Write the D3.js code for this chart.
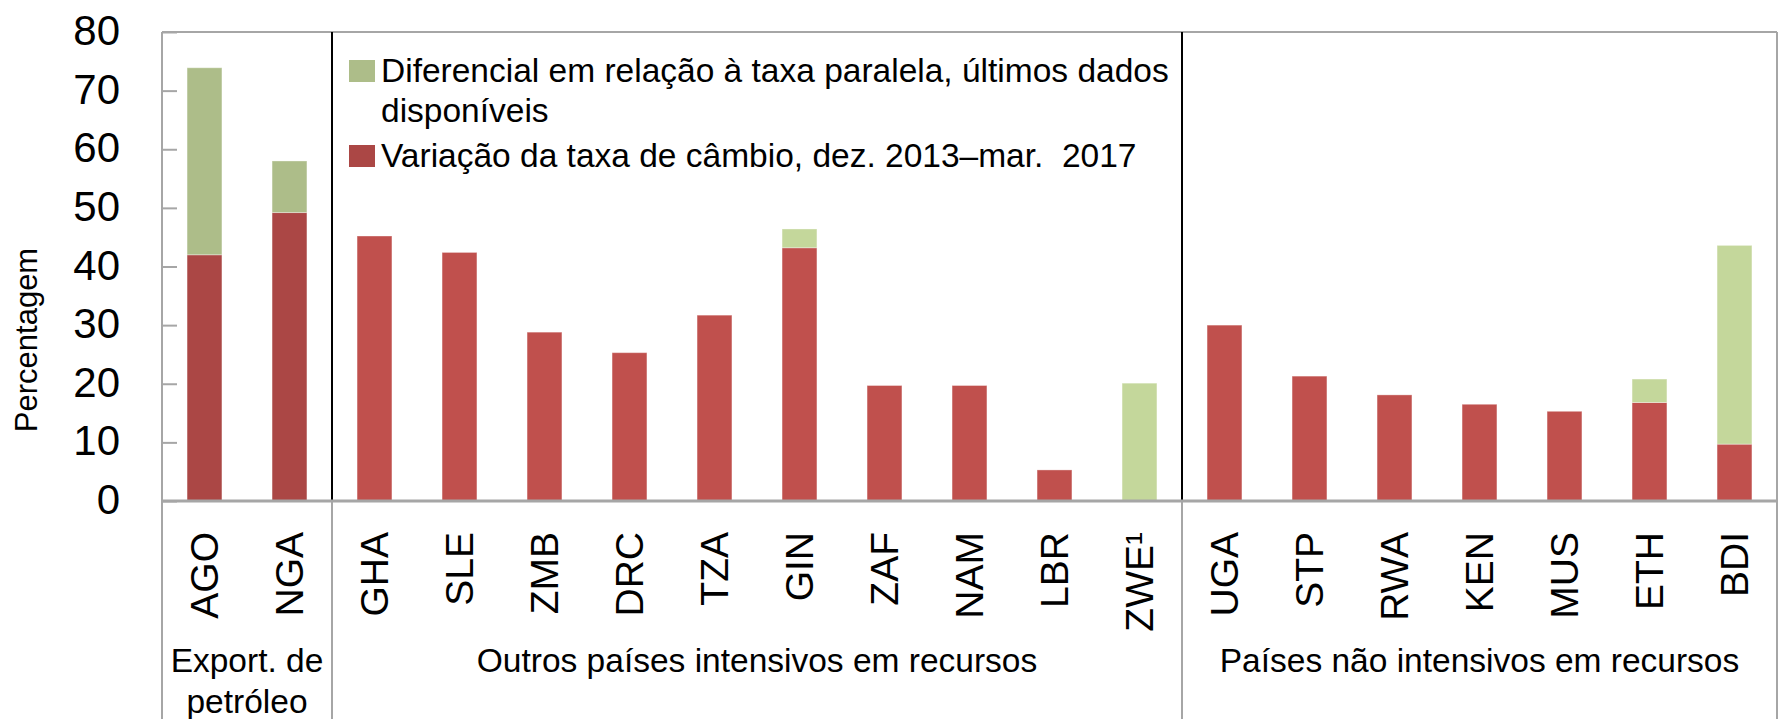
<!DOCTYPE html>
<html>
<head>
<meta charset="utf-8">
<title>Variação da taxa de câmbio</title>
<script src="https://d3js.org/d3.v7.min.js"></script>
<style>
  body { margin: 0; background: #fff; }
  svg text { font-family: "Liberation Sans", Arial, sans-serif; fill: #000; }
  .yAxis .domain { display: none; }
  .yAxis line { stroke: #a6a6a6; stroke-width: 2; }
  .xAxis .domain { display: none; }
</style>
</head>
<body>
<svg width="1781" height="719"></svg>
<script>
// categories (countries) in drawing order
var countries = ["AGO", "NGA", "GHA", "SLE", "ZMB", "DRC", "TZA", "GIN", "ZAF", "NAM",
                 "LBR", "ZWE\u00B9", "UGA", "STP", "RWA", "KEN", "MUS", "ETH", "BDI"];
// Variação da taxa de câmbio, dez. 2013–mar. 2017
var variacao = [42.0, 49.2, 45.2, 42.4, 28.8, 25.3, 31.7, 43.2, 19.7, 19.7,
                5.3, 0, 30.0, 21.3, 18.1, 16.5, 15.3, 16.8, 9.7];
// Diferencial em relação à taxa paralela
var diferencial = [31.9, 8.8, 0, 0, 0, 0, 0, 3.2, 0, 0,
                   0, 20.1, 0, 0, 0, 0, 0, 4.0, 33.9];
// country groups
var groupSizes = [2, 10, 7];
var groupLabels = [["Export. de", "petróleo"],
                   ["Outros países intensivos em recursos"],
                   ["Países não intensivos em recursos"]];
var yTicks = [0, 10, 20, 30, 40, 50, 60, 70, 80];
var seriesNames = ["Diferencial em relação à taxa paralela, últimos dados|disponíveis",
                   "Variação da taxa de câmbio, dez. 2013–mar.  2017"];

var plotLeft = 162, plotRight = 1777, plotTop = 32, plotBottom = 501;
var svg = d3.select("svg");

var x = d3.scaleBand().domain(countries).range([plotLeft, plotRight])
          .paddingInner(0.59).paddingOuter(0.295);
var y = d3.scaleLinear().domain([0, 80]).range([plotBottom, plotTop]);

// which group each country falls in
var groupOf = [];
groupSizes.forEach(function(n, g) { for (var i = 0; i < n; i++) groupOf.push(g); });

var colRed = ["#ab4745", "#c0504d", "#c0504d"];
var colGreen = ["#adbd89", "#c4d79b", "#c4d79b"];

// stacked data
var rows = countries.map(function(c, i) {
  return {country: c, variacao: variacao[i], diferencial: diferencial[i], g: groupOf[i]};
});
var layers = d3.stack().keys(["variacao", "diferencial"])(rows);

var bars = [];
layers.forEach(function(layer) {
  layer.forEach(function(p) {
    if (p[1] - p[0] > 0) bars.push({key: layer.key, p: p});
  });
});

svg.append("g").selectAll("rect")
  .data(bars)
  .enter().append("rect")
  .attr("x", function(d) { return x(d.p.data.country); })
  .attr("width", x.bandwidth())
  .attr("y", function(d) { return y(d.p[1]); })
  .attr("height", function(d) { return y(d.p[0]) - y(d.p[1]); })
  .attr("fill", function(d) {
    return d.key == "variacao" ? colRed[d.p.data.g] : colGreen[d.p.data.g];
  })
  .attr("stroke", "rgba(255,255,255,0.35)")
  .attr("stroke-width", 1);

// frame
var step = x.step();
svg.append("line").attr("x1", plotLeft).attr("x2", plotRight).attr("y1", plotTop).attr("y2", plotTop)
  .attr("stroke", "#a6a6a6").attr("stroke-width", 2);
svg.append("line").attr("x1", plotLeft).attr("x2", plotLeft).attr("y1", plotTop).attr("y2", 719)
  .attr("stroke", "#a6a6a6").attr("stroke-width", 2);
svg.append("line").attr("x1", plotRight).attr("x2", plotRight).attr("y1", plotTop).attr("y2", 719)
  .attr("stroke", "#a6a6a6").attr("stroke-width", 2);

// y axis, ticks pointing inward
var yAxisGroup = svg.append("g").attr("class", "yAxis")
  .attr("transform", "translate(" + plotLeft + ",0)");
yAxisGroup.call(d3.axisLeft(y).tickValues(yTicks).tickSizeInner(-15).tickSizeOuter(0).tickPadding(42));
yAxisGroup.selectAll("text").attr("font-size", 42).attr("dy", "0.3em");

// group dividers
var cum = 0;
var dividers = [];
groupSizes.slice(0, -1).forEach(function(n) { cum += n; dividers.push(plotLeft + cum * step); });
dividers.forEach(function(dx) {
  svg.append("line").attr("x1", dx).attr("x2", dx).attr("y1", plotTop).attr("y2", plotBottom)
    .attr("stroke", "#000").attr("stroke-width", 2);
  svg.append("line").attr("x1", dx).attr("x2", dx).attr("y1", plotBottom).attr("y2", 719)
    .attr("stroke", "#a6a6a6").attr("stroke-width", 2);
});

// zero line
svg.append("line").attr("x1", plotLeft).attr("x2", plotRight).attr("y1", y(0)).attr("y2", y(0))
  .attr("stroke", "#a6a6a6").attr("stroke-width", 3);

// x axis category labels, rotated
var xAxisGroup = svg.append("g").attr("class", "xAxis")
  .attr("transform", "translate(0," + plotBottom + ")");
xAxisGroup.call(d3.axisBottom(x).tickSize(0).tickPadding(0));
xAxisGroup.selectAll("text")
  .attr("font-size", 39)
  .attr("x", 0).attr("y", 0)
  .attr("dy", "0.358em")
  .attr("text-anchor", "end")
  .attr("transform", "translate(0,31) rotate(-90)");

// group labels
var bounds = [plotLeft].concat(dividers).concat([plotRight]);
groupLabels.forEach(function(lines, g) {
  var cx = (bounds[g] + bounds[g + 1]) / 2;
  lines.forEach(function(t, k) {
    svg.append("text").attr("x", cx).attr("y", 672 + k * 41)
      .attr("text-anchor", "middle").attr("font-size", 33.5).text(t);
  });
});

// y axis title
svg.append("text")
  .attr("transform", "translate(37,340) rotate(-90)")
  .attr("text-anchor", "middle").attr("font-size", 31)
  .text("Percentagem");

// legend
var legendColors = [colGreen[0], colRed[0]];
var legendY = [82, 167];
seriesNames.forEach(function(name, i) {
  svg.append("rect").attr("x", 349).attr("y", legendY[i] - 22)
    .attr("width", 26).attr("height", 22).attr("fill", legendColors[i]);
  name.split("|").forEach(function(t, k) {
    svg.append("text").attr("x", 381).attr("y", legendY[i] + k * 40)
      .attr("font-size", 33.5).style("white-space", "pre").text(t);
  });
});
</script>
</body>
</html>
